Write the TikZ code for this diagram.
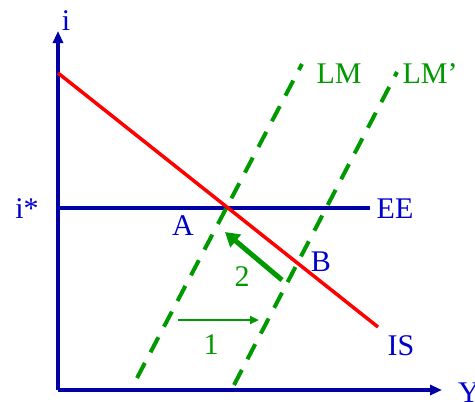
\documentclass[tikz,border=0pt]{standalone}
\usepackage{fontspec}
\setmainfont{Liberation Serif}
\usetikzlibrary{arrows.meta}
\definecolor{axblue}{RGB}{0,0,165}
\definecolor{txtblue}{RGB}{0,0,204}
\definecolor{lmgreen}{RGB}{0,153,0}
\definecolor{isred}{RGB}{255,0,0}
\begin{document}
\begin{tikzpicture}[x=1pt,y=-1pt,
  axis/.style={draw=axblue,line width=3.5pt,-{Triangle[length=12pt,width=10pt]}},
  lbl/.style={font=\fontsize{30}{30}\selectfont,inner sep=0pt},
  bluelbl/.style={lbl,text=txtblue},
  greenlbl/.style={lbl,text=lmgreen},
  lmline/.style={draw=lmgreen,line width=4pt,dash pattern=on 17pt off 12pt},
  isline/.style={draw=isred,line width=3.5pt},
  eeline/.style={draw=axblue,line width=3.5pt}]
\useasboundingbox (0,0) rectangle (475,402);
\coordinate (O) at (58,390);
\coordinate (Ytip) at (442,390);
\coordinate (Itip) at (58,31);
\draw[axis] (O) -- (Itip);
\draw[axis] (O) -- (Ytip);
\node[bluelbl] (ilab) at (66,21) {i};
\node[bluelbl] (Ylab) at (469,393) {Y};
\node[bluelbl] (istar) at (27,209) {i*};
% EE
\coordinate (ee0) at (58,208);
\coordinate (ee1) at (370,208);
\draw[eeline] (ee0) -- (ee1);
\node[bluelbl] (EE) at (395,209) {EE};
% IS
\coordinate (is0) at (58,73);
\coordinate (is1) at (378,327);
\draw[isline] (is0) -- (is1);
\node[bluelbl] (IS) at (401,346) {IS};
% LM
\coordinate (lm0) at (137,378);
\coordinate (lm1) at (302,64);
\draw[lmline] (lm0) -- (lm1);
\node[greenlbl] (LM) at (339,74) {LM};
\coordinate (lmp0) at (234,385);
\coordinate (lmp1) at (397,72);
\draw[lmline] (lmp0) -- (lmp1);
\node[greenlbl] (LMp) at (430,74) {LM'};
% points
\node[bluelbl] (A) at (183,226) {A};
\node[bluelbl] (B) at (321,262) {B};
% arrow 2
\coordinate (a2s) at (282,280);
\coordinate (a2e) at (225,232);
\draw[draw=lmgreen,line width=5pt,-{Triangle[length=14pt,width=16pt]}] (a2s) -- (a2e);
\node[greenlbl] (two) at (242,277) {2};
% arrow 1
\coordinate (a1s) at (178,320);
\coordinate (a1e) at (259,320);
\draw[draw=lmgreen,line width=2.5pt,-{Triangle[length=9pt,width=8pt]}] (a1s) -- (a1e);
\node[greenlbl] (one) at (211,345) {1};
\end{tikzpicture}
\end{document}
